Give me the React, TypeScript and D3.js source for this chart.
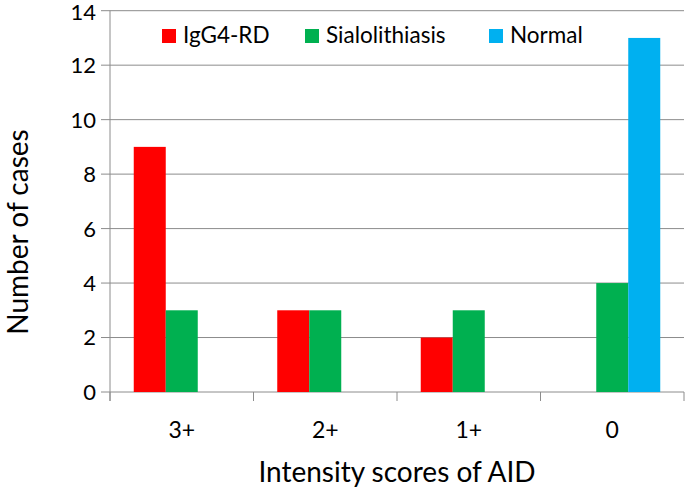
import React from "react";
import * as d3 from "d3";

const categories = ["3+", "2+", "1+", "0"];
const seriesNames = ["IgG4-RD", "Sialolithiasis", "Normal"];
const igg4 = [9, 3, 2, 0];
const sialo = [3, 3, 3, 4];
const normal = [0, 0, 0, 13];
const colors = ["#FF0000", "#00B050", "#00B0F0"];
const yTicks = [0, 2, 4, 6, 8, 10, 12, 14];

const W = 685, H = 491;
const left = 110, right = 684, top = 10.7, bottom = 392;
const font = "Lato, 'Open Sans', sans-serif";

export default function App() {
  const values = [igg4, sialo, normal];
  const x = d3.scaleBand().domain(categories).range([left, right]).paddingInner(0).paddingOuter(0);
  const y = d3.scaleLinear().domain([0, 14]).range([bottom, top]);
  const groupW = 96;
  const bw = groupW / seriesNames.length;
  const bounds = [...categories.map((c) => x(c)!), right];
  return (
    <svg width={W} height={H} style={{ position: "absolute", left: 0, top: 0, background: "#fff" }}>
      {yTicks.map((t) => (
        <g key={t}>
          <line x1={left - 9} x2={right} y1={y(t)} y2={y(t)} stroke="#8c8c8c" strokeWidth={1} />
          <text x={left - 14} y={Math.max(y(t), 12)} dy="0.36em" textAnchor="end" fontFamily={font} fontSize={22} fill="#000">{t}</text>
        </g>
      ))}
      <line x1={left} x2={left} y1={top} y2={bottom + 9} stroke="#8c8c8c" />
      {bounds.map((b, i) => (
        <line key={i} x1={b} x2={b} y1={bottom} y2={bottom + 9} stroke="#8c8c8c" />
      ))}
      {categories.map((c, ci) => {
        const cx = x(c)! + x.bandwidth() / 2;
        const x0 = cx - groupW / 2;
        return (
          <g key={c}>
            {values.map((vals, si) =>
              vals[ci] > 0 ? (
                <rect key={si} x={x0 + si * bw} y={y(vals[ci])} width={bw} height={bottom - y(vals[ci])} fill={colors[si]} />
              ) : null
            )}
            <text x={cx} y={438} textAnchor="middle" fontFamily={font} fontSize={23} fill="#000">{c}</text>
          </g>
        );
      })}
      {seriesNames.map((s, i) => {
        const lx = [162, 305, 489][i];
        return (
          <g key={s}>
            <rect x={lx} y={29} width={14} height={14} fill={colors[i]} />
            <text x={lx + 21} y={43} fontFamily={font} fontSize={22.5} fill="#000">{s}</text>
          </g>
        );
      })}
      <text x={(left + right) / 2} y={482} textAnchor="middle" fontFamily={font} fontSize={28} fill="#000">Intensity scores of AID</text>
      <text transform={`translate(28,232) rotate(-90)`} textAnchor="middle" fontFamily={font} fontSize={28} fill="#000">Number of cases</text>
    </svg>
  );
}
